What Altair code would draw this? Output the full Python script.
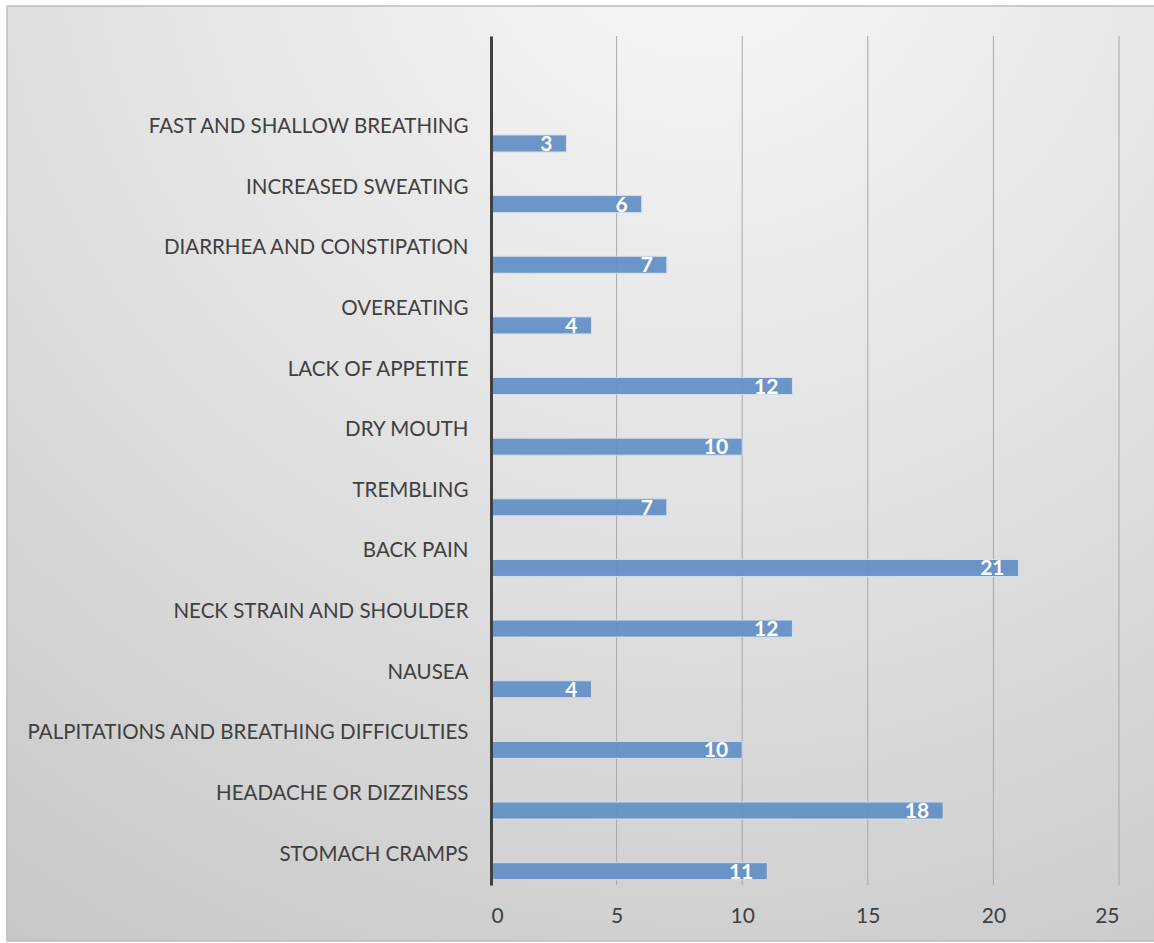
import altair as alt
import pandas as pd

categories = [
    "FAST AND SHALLOW BREATHING",
    "INCREASED SWEATING",
    "DIARRHEA AND CONSTIPATION",
    "OVEREATING",
    "LACK OF APPETITE",
    "DRY MOUTH",
    "TREMBLING",
    "BACK PAIN",
    "NECK STRAIN AND SHOULDER",
    "NAUSEA",
    "PALPITATIONS AND BREATHING DIFFICULTIES",
    "HEADACHE OR DIZZINESS",
    "STOMACH CRAMPS",
]
values = [3, 6, 7, 4, 12, 10, 7, 21, 12, 4, 10, 18, 11]
x_ticks = [0, 5, 10, 15, 20, 25]

W = 628
H = 849
PAD = {"left": 491, "top": 36, "right": 35, "bottom": 58}
FONT = "Lato"

df = pd.DataFrame({"symptom": categories, "count": values})
grid_df = pd.DataFrame({"tick": x_ticks[1:]})
bg_df = pd.DataFrame({"a": [0]})

y_domain = [" "] + categories

xscale = alt.Scale(domain=[0, 25], nice=False, zero=True)
yscale = alt.Scale(domain=y_domain, paddingInner=0, paddingOuter=0)

background = alt.Chart(bg_df).mark_rect(
    stroke="#BDBDBD", strokeWidth=1.5
).encode(
    x=alt.value(7 - PAD["left"]),
    x2=alt.value(W + PAD["right"] + 2),
    y=alt.value(6 - PAD["top"]),
    y2=alt.value(H + PAD["bottom"] - 2),
    color=alt.value(
        alt.Gradient(
            gradient="radial",
            stops=[
                alt.GradientStop(color="#F8F8F8", offset=0),
                alt.GradientStop(color="#E0E0E0", offset=0.5),
                alt.GradientStop(color="#C4C4C4", offset=1),
            ],
            x1=0.6, y1=0.0, r1=0.0,
            x2=0.6, y2=0.0, r2=1.15,
        )
    ),
)

grid = alt.Chart(grid_df).mark_rule(color="#A8A8A8", strokeWidth=1).encode(
    x=alt.X("tick:Q", scale=xscale),
    y=alt.value(0),
    y2=alt.value(H),
)

bars = alt.Chart(df).mark_bar(
    height=17, yOffset=16.5, color="#6390C6", opacity=0.93,
    stroke="#D3DFEE", strokeWidth=1,
).encode(
    x=alt.X(
        "count:Q",
        scale=xscale,
        axis=alt.Axis(
            values=x_ticks, grid=False, ticks=False, domain=False,
            labelFont=FONT, labelFontSize=21, labelColor="#404040",
            labelPadding=31, labelBaseline="middle", title=None, zindex=1,
        ),
    ),
    y=alt.Y(
        "symptom:N",
        scale=yscale,
        sort=y_domain,
        axis=alt.Axis(
            ticks=False, grid=False, domain=True, domainColor="#404040",
            domainWidth=3, labelFont=FONT, labelFontSize=20.5,
            labelColor="#404040", labelPadding=23, labelLimit=480,
            labelBaseline="middle", title=None, zindex=1,
        ),
    ),
)

labels = alt.Chart(df).mark_text(
    align="right", baseline="middle", dx=-14, yOffset=18,
    font=FONT, fontSize=21, fontWeight="bold", color="white",
).encode(
    x=alt.X("count:Q", scale=xscale),
    y=alt.Y("symptom:N", scale=yscale, sort=y_domain),
    text=alt.Text("count:Q"),
)

chart = alt.layer(background, grid, bars, labels).properties(
    width=W,
    height=H,
    padding=PAD,
    autosize=alt.AutoSizeParams(type="none"),
    background="white",
).configure_view(stroke=None)

chart.save("out.html", embed_options={"renderer": "svg", "actions": False})
